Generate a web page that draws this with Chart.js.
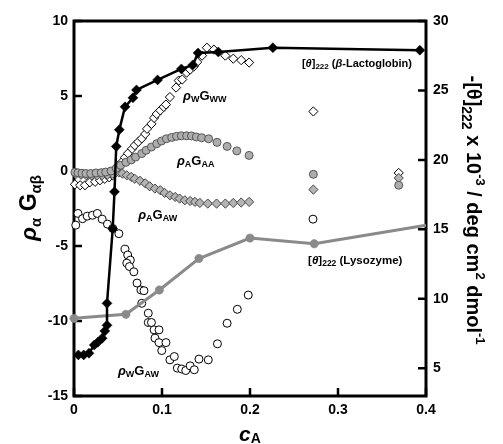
<!DOCTYPE html>
<html>
<head>
<meta charset="utf-8">
<script src="https://cdn.jsdelivr.net/npm/chart.js@4.4.0/dist/chart.umd.min.js"></script>
<style>
  html, body { margin: 0; padding: 0; background: #fff; }
</style>
</head>
<body>
<canvas id="chart" width="503" height="444"></canvas>
<script>
// [theta]222 of beta-lactoglobulin (right axis)
const lactoX = [0.005, 0.011, 0.017, 0.023, 0.027, 0.032, 0.035, 0.0375, 0.0375, 0.044, 0.046, 0.048, 0.0515, 0.058, 0.067, 0.071, 0.095, 0.122, 0.135, 0.141, 0.164, 0.226, 0.393];
const lactoY = [5.96, 5.96, 6.08, 6.67, 6.87, 7.16, 7.68, 8.09, 9.67, 15.04, 17.7, 20.97, 22.17, 23.82, 24.47, 25.04, 25.76, 26.55, 26.84, 27.7, 27.77, 28.08, 27.9];

// [theta]222 of lysozyme (right axis)
const lysoX = [0, 0.059, 0.097, 0.142, 0.2, 0.273, 0.4];
const lysoY = [8.59, 8.88, 10.63, 12.9, 14.37, 13.96, 15.29];

// rhoW GWW (left axis)
const gwwX = [0.001, 0.007, 0.0125, 0.018, 0.024, 0.0295, 0.035, 0.040, 0.044, 0.050, 0.0545, 0.058, 0.0614, 0.066, 0.069, 0.073, 0.077, 0.081, 0.083, 0.088, 0.091, 0.094, 0.098, 0.102, 0.1045, 0.109, 0.116, 0.119, 0.123, 0.128, 0.132, 0.136, 0.140, 0.1455, 0.151, 0.159, 0.172, 0.181, 0.19, 0.199, 0.272, 0.369];
const gwwY = [-0.89, -0.95, -0.95, -0.75, -0.72, -0.62, -0.52, -0.42, -0.29, 0.31, 0.6, 0.91, 1.18, 1.48, 1.71, 1.94, 2.17, 2.47, 2.81, 3.14, 3.54, 3.8, 4.04, 4.27, 4.43, 4.93, 5.56, 6.03, 6.1, 6.56, 6.76, 6.96, 7.26, 7.69, 8.22, 8.09, 7.69, 7.49, 7.39, 7.23, 3.97, -0.13];

// rhoA GAA (left axis)
const gaaX = [0.001, 0.0045, 0.009, 0.0136, 0.019, 0.025, 0.031, 0.036, 0.042, 0.048, 0.053, 0.059, 0.065, 0.070, 0.077, 0.082, 0.088, 0.094, 0.0994, 0.105, 0.111, 0.1165, 0.122, 0.128, 0.1335, 0.139, 0.145, 0.153, 0.1625, 0.174, 0.185, 0.199, 0.272, 0.369];
const gaaY = [-0.09, -0.12, -0.15, -0.17, -0.17, -0.13, -0.11, -0.07, 0.0, 0.18, 0.38, 0.58, 0.74, 0.93, 1.16, 1.38, 1.6, 1.82, 2.0, 2.15, 2.24, 2.31, 2.35, 2.35, 2.34, 2.27, 2.22, 2.15, 1.91, 1.64, 1.34, 1.04, -0.22, -0.95];

// rhoA GAW (left axis)
const gawX = [0.002, 0.008, 0.014, 0.02, 0.026, 0.032, 0.038, 0.044, 0.051, 0.055, 0.060, 0.065, 0.069, 0.075, 0.081, 0.086, 0.092, 0.098, 0.103, 0.109, 0.115, 0.120, 0.126, 0.132, 0.1375, 0.143, 0.152, 0.162, 0.172, 0.181, 0.19, 0.199, 0.272, 0.369];
const gawY = [-0.2, -0.25, -0.28, -0.3, -0.3, -0.28, -0.25, -0.18, -0.09, -0.17, -0.29, -0.39, -0.52, -0.65, -0.82, -1.02, -1.17, -1.28, -1.46, -1.62, -1.73, -1.84, -1.95, -2.0, -2.06, -2.13, -2.17, -2.17, -2.17, -2.13, -2.1, -2.06, -1.24, -0.47];

// rhoW GAW (left axis)
const wgawX = [0.002, 0.0045, 0.0097, 0.015, 0.021, 0.0265, 0.032, 0.038, 0.044, 0.051, 0.058, 0.061, 0.064, 0.06, 0.063, 0.068, 0.0716, 0.076, 0.0795, 0.077, 0.0844, 0.0844, 0.088, 0.091, 0.0966, 0.092, 0.0966, 0.1045, 0.0997, 0.109, 0.114, 0.1174, 0.1224, 0.127, 0.132, 0.1367, 0.142, 0.1526, 0.163, 0.174, 0.1856, 0.198, 0.2716];
const wgawY = [-3.61, -2.83, -3.18, -3.01, -2.95, -2.83, -3.21, -3.54, -3.83, -4.18, -5.21, -5.6, -5.94, -6.14, -6.37, -6.72, -7.47, -7.93, -7.98, -8.82, -9.48, -10.1, -10.1, -10.59, -10.59, -11.14, -11.44, -11.44, -11.97, -12.59, -12.37, -13.14, -13.2, -13.3, -12.99, -13.25, -12.54, -12.59, -11.52, -10.15, -9.22, -8.27, -3.21];

const xTicks = [0, 0.1, 0.2, 0.3, 0.4];
const rightTicks = [5, 10, 15, 20, 25, 30];

function pts(xs, ys) { return xs.map((x, i) => ({ x: x, y: ys[i] })); }

const FONT = '"Liberation Sans", Arial, sans-serif';
function fontOf(p) { return (p[2] ? 'italic ' : '') + 'bold ' + p[1] + 'px ' + FONT; }

// parts: [text, size, italic, shift]
function richText(ctx, x, y, parts, align) {
  let w = 0;
  parts.forEach(p => { ctx.font = fontOf(p); w += ctx.measureText(p[0]).width; });
  let cx = align === 'center' ? x - w / 2 : x;
  parts.forEach(p => {
    ctx.font = fontOf(p);
    ctx.fillText(p[0], cx, y + (p[3] || 0));
    cx += ctx.measureText(p[0]).width;
  });
}

const framePlugin = {
  id: 'frame',
  beforeDatasetsDraw(chart) {
    const { ctx, chartArea: a, scales } = chart;
    ctx.save();
    ctx.strokeStyle = '#000';
    ctx.lineWidth = 3;
    ctx.strokeRect(a.left, a.top, a.right - a.left, a.bottom - a.top);
    ctx.lineWidth = 2.5;
    ctx.beginPath();
    scales.x.ticks.forEach((t, i) => {
      const px = scales.x.getPixelForTick(i);
      ctx.moveTo(px, a.bottom); ctx.lineTo(px, a.bottom - 8);
    });
    scales.y.ticks.forEach((t, i) => {
      const py = scales.y.getPixelForTick(i);
      ctx.moveTo(a.left, py); ctx.lineTo(a.left + 8, py);
    });
    scales.y2.ticks.forEach((t, i) => {
      const py = scales.y2.getPixelForTick(i);
      ctx.moveTo(a.right, py); ctx.lineTo(a.right - 8, py);
    });
    ctx.stroke();
    ctx.restore();
  },
  afterDraw(chart) {
    const { ctx, scales } = chart;
    const X = v => scales.x.getPixelForValue(v);
    const Y = v => scales.y.getPixelForValue(v);
    ctx.save();
    ctx.fillStyle = '#000';
    ctx.textBaseline = 'alphabetic';

    // curve labels
    richText(ctx, X(0.124), Y(5.1) + 5, [['ρ', 13, true], ['W', 9, false, 2], ['G', 13, false], ['WW', 9, false, 2]]);
    richText(ctx, X(0.117), Y(0.71) + 5, [['ρ', 13, true], ['A', 9, false, 2], ['G', 13, false], ['AA', 9, false, 2]]);
    richText(ctx, X(0.073), Y(-2.88) + 5, [['ρ', 13, true], ['A', 9, false, 2], ['G', 13, false], ['AW', 9, false, 2]]);
    richText(ctx, X(0.05), Y(-13.25) + 5, [['ρ', 13, true], ['W', 9, false, 2], ['G', 13, false], ['AW', 9, false, 2]]);
    richText(ctx, X(0.259), Y(7.23) + 4, [['[', 11], ['θ', 11, true], [']', 11], ['222', 8, false, 2], [' (', 11], ['β', 11, true], ['-Lactoglobin)', 11]]);
    richText(ctx, X(0.266), Y(-5.94) + 4, [['[', 11.5], ['θ', 11.5, true], [']', 11.5], ['222', 8.5, false, 2], [' (Lysozyme)', 11.5]]);

    // x title
    richText(ctx, 250, 441, [['c', 21, true], ['A', 14, false, 2]], 'center');

    // left title
    ctx.save();
    ctx.translate(36, 208);
    ctx.rotate(-Math.PI / 2);
    richText(ctx, 0, 0, [['ρ', 23, true], ['α', 15, false, 5], [' G', 23, false], ['αβ', 15, false, 5]], 'center');
    ctx.restore();

    // right title
    ctx.save();
    ctx.translate(467, 210);
    ctx.rotate(Math.PI / 2);
    richText(ctx, 0, 0, [['-[', 20], ['θ', 20], [']', 20], ['222', 14, false, 5], [' x 10', 20], ['-3', 13, false, -9],
      [' / deg cm', 20], ['2', 13, false, -9], [' dmol', 20], ['-1', 13, false, -9]], 'center');
    ctx.restore();

    ctx.restore();
  }
};

const tickFont = { family: FONT, size: 14, weight: 'bold' };

new Chart(document.getElementById('chart'), {
  type: 'scatter',
  data: {
    datasets: [
      {
        label: 'lactoglobulin', data: pts(lactoX, lactoY), yAxisID: 'y2', showLine: true,
        borderColor: '#000', borderWidth: 2.5, pointStyle: 'rectRot', pointRadius: 5,
        pointBackgroundColor: '#000', pointBorderColor: '#000', pointBorderWidth: 0.5, clip: false
      },
      {
        label: 'lysozyme', data: pts(lysoX, lysoY), yAxisID: 'y2', showLine: true,
        borderColor: '#8a8a8a', borderWidth: 3, pointStyle: 'circle',
        pointRadius: lysoX.map((v, i) => i === lysoX.length - 1 ? 0 : 4.2),
        pointBackgroundColor: '#8a8a8a', pointBorderColor: '#8a8a8a', pointBorderWidth: 0.5, clip: false
      },
      {
        label: 'GAA', data: pts(gaaX, gaaY), yAxisID: 'y', pointStyle: 'circle', pointRadius: 4,
        pointBackgroundColor: '#adadad', pointBorderColor: '#555', pointBorderWidth: 1, clip: false
      },
      {
        label: 'GAW', data: pts(gawX, gawY), yAxisID: 'y', pointStyle: 'rectRot', pointRadius: 4.6,
        pointBackgroundColor: '#b4b4b4', pointBorderColor: '#444', pointBorderWidth: 1, clip: false
      },
      {
        label: 'GWW', data: pts(gwwX, gwwY), yAxisID: 'y', pointStyle: 'rectRot', pointRadius: 4.6,
        pointBackgroundColor: '#fff', pointBorderColor: '#000', pointBorderWidth: 1, clip: false
      },
      {
        label: 'wGAW', data: pts(wgawX, wgawY), yAxisID: 'y', pointStyle: 'circle', pointRadius: 4,
        pointBackgroundColor: '#fff', pointBorderColor: '#000', pointBorderWidth: 1, clip: false
      }
    ]
  },
  options: {
    responsive: false,
    animation: false,
    devicePixelRatio: 1,
    layout: { padding: { top: 21, left: 0, right: 0, bottom: 0 } },
    plugins: { legend: { display: false }, tooltip: { enabled: false } },
    scales: {
      x: {
        type: 'linear', min: 0, max: 0.4,
        grid: { display: false, drawTicks: false }, border: { display: false },
        afterBuildTicks: s => { s.ticks = xTicks.map(v => ({ value: v })); },
        afterFit: s => { s.height = 48; },
        ticks: { font: tickFont, color: '#000', padding: 6, maxRotation: 0,
          callback: v => v === 0 ? '0' : v.toFixed(1) }
      },
      y: {
        type: 'linear', position: 'left', min: -15, max: 10,
        grid: { display: false, drawTicks: false }, border: { display: false },
        afterFit: s => { s.width = 74; },
        ticks: { stepSize: 5, font: tickFont, color: '#000', padding: 6 }
      },
      y2: {
        type: 'linear', position: 'right', min: 3, max: 30,
        grid: { display: false, drawTicks: false }, border: { display: false },
        afterBuildTicks: s => { s.ticks = rightTicks.map(v => ({ value: v })); },
        afterFit: s => { s.width = 77; },
        ticks: { font: tickFont, color: '#000', padding: 7 }
      }
    }
  },
  plugins: [framePlugin]
});
</script>
</body>
</html>
